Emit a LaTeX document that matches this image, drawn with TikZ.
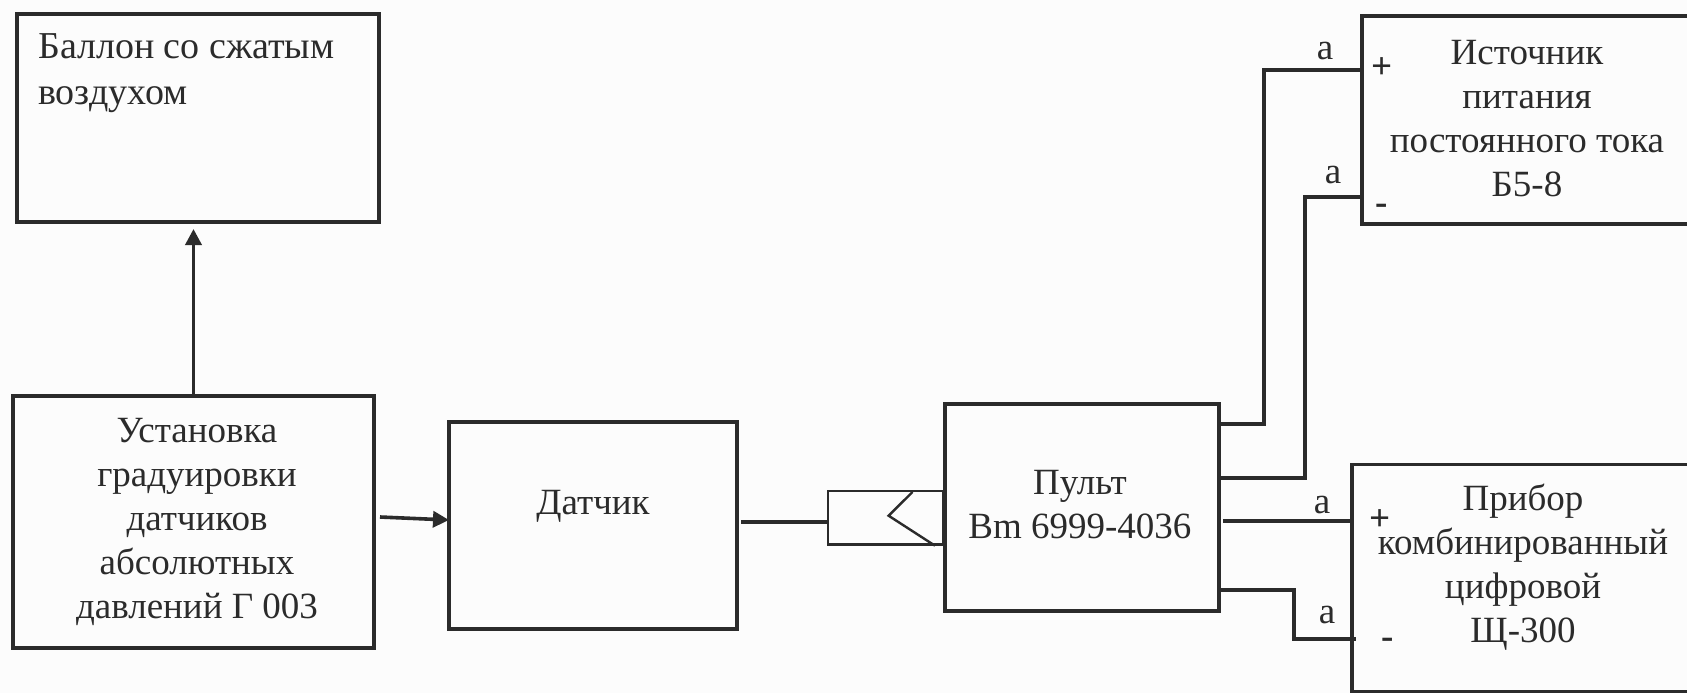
\documentclass[tikz,border=0pt]{standalone}
\usepackage{fontspec}
\setmainfont{Liberation Serif}
\usetikzlibrary{arrows.meta}
\definecolor{ink}{HTML}{2B2B2B}
\tikzset{
  x=1pt,y=-1pt,
  boxa/.style={draw=ink,line width=3.8pt,minimum width=#1,inner sep=0pt,outer sep=0pt},
  txt/.style={font=\fontsize{37}{44}\selectfont,text=ink,align=center,inner sep=0pt},
  sign/.style={font=\fontsize{37}{44}\selectfont\bfseries,text=ink,inner sep=0pt},
  wire/.style={draw=ink,line width=3.6pt},
  thin wire/.style={draw=ink,line width=2.4pt},
  arr/.style={draw=ink,line width=3.6pt,-{Triangle[length=16pt,width=16pt]}}
}
\begin{document}
\begin{tikzpicture}
\useasboundingbox (0,0) rectangle (1687,693);
\fill[white!99!black] (0,0) rectangle (1687,693);
% boxes
\node[boxa=362pt,minimum height=208pt] (ballon) at (198,118) {};
\node[boxa=361pt,minimum height=252pt] (ust) at (193.5,522) {};
\node[boxa=288pt,minimum height=207pt] (dat) at (593,525.5) {};
\node[boxa=274pt,minimum height=207pt] (pult) at (1082,507.5) {};
\node[boxa=340pt,minimum height=208pt] (ist) at (1532,120) {};
\node[boxa=350pt,minimum height=227pt] (prib) at (1527,578) {};
\node[draw=ink,line width=2.5pt,minimum width=115pt,minimum height=53.5pt,inner sep=0pt,outer sep=0pt] (conn) at (885.5,517.5) {};
% texts
\node[txt,font=\fontsize{38}{46}\selectfont,align=left,anchor=north west] (t1) at (38,33) {Баллон со сжатым\\воздухом};
\node[txt] (t2) at (197,522) {Установка\\градуировки\\датчиков\\абсолютных\\давлений Г 003};
\node[txt] (t3) at (593,506) {Датчик};
\node[txt] (t4) at (1080,505) {Пульт\\Вm 6999-4036};
\node[txt] (t5) at (1527,119) {Источник\\питания\\постоянного тока\\Б5-8};
\node[txt] (t6) at (1523,567) {Прибор\\комбинированный\\цифровой\\Щ-300};
\node[sign] (plus1) at (1382,68) {+};
\node[sign] (minus1) at (1382,209) {-};
\node[sign] (plus2) at (1380,520) {+};
\node[sign] (minus2) at (1388,643) {-};
\node[txt] (a1) at (1325,51) {а};
\node[txt] (a2) at (1333,175) {а};
\node[txt] (a3) at (1322,505) {а};
\node[txt] (a4) at (1327,615) {а};
% junction coordinates
\coordinate (p1) at (pult.east |- 0,424);
\coordinate (p2) at ([xshift=2pt]pult.east |- 0,478);
\coordinate (p3) at ([xshift=4pt]pult.east |- 0,520.7);
\coordinate (p4) at (pult.east |- 0,590);
\coordinate (i1) at (ist.west |- 0,70);
\coordinate (i2) at (ist.west |- 0,197);
\coordinate (q3) at (prib.west |- 0,520.7);
\coordinate (q4) at ([xshift=4pt]prib.west |- 0,639);
\coordinate (d1) at ([xshift=4pt]dat.east |- 0,521.7);
\coordinate (c1) at (conn.west |- 0,521.7);
% connectors
\draw[arr,shorten >=7pt] (ust.north) -- (ust.north |- ballon.south);
\draw[arr] ([shift={(6,-5)}]ust.east) -- ([yshift=5.5pt]dat.west);
\draw[wire] (d1) -- (c1);
\draw[wire] (p1) -| (1264,70) -- (i1);
\draw[wire] (p2) -| (1305,197) -- (i2);
\draw[wire] (p3) -- (q3);
\draw[wire] (p4) -| (1294,639) -- (q4);
\draw[thin wire] (912.5,492) -- (888.6,515.7) -- (935,545.7);
\end{tikzpicture}
\end{document}
